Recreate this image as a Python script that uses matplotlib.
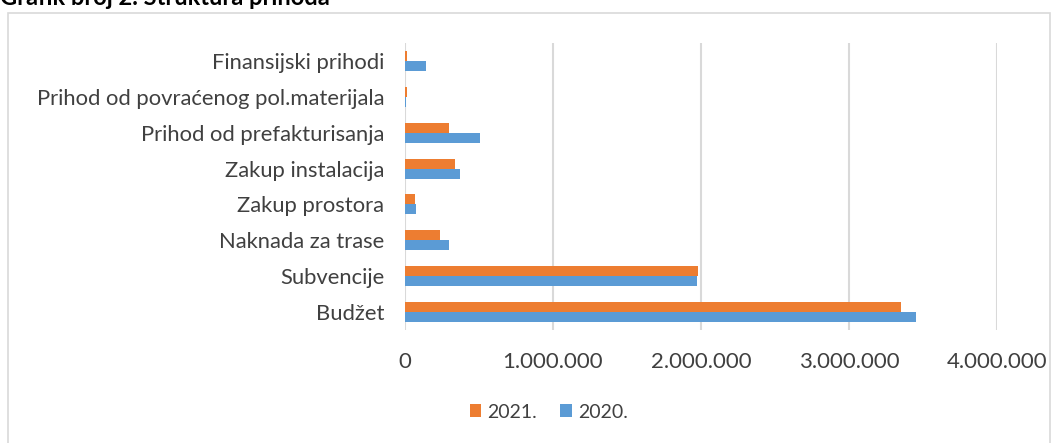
import matplotlib.pyplot as plt
from matplotlib.patches import Rectangle
from matplotlib.ticker import FuncFormatter
import numpy as np

# Struktura prihoda, 2020. i 2021.
categories = ['Budžet', 'Subvencije', 'Naknada za trase', 'Zakup prostora',
              'Zakup instalacija', 'Prihod od prefakturisanja',
              'Prihod od povraćenog pol.materijala', 'Finansijski prihodi']
values_2021 = [3350000, 1980000, 237000, 65000, 340000, 300000, 11000, 16000]
values_2020 = [3450000, 1970000, 294000, 73000, 370000, 510000, 7000, 145000]
xticks = [0, 1000000, 2000000, 3000000, 4000000]

orange = '#ED7D31'
blue = '#5B9BD5'

plt.rcParams['font.family'] = ['Lato', 'DejaVu Sans']

fig = plt.figure(figsize=(10.59, 4.43), dpi=100)
ax = fig.add_axes([405 / 1059, 1 - 330 / 443, (997 - 405) / 1059, (330 - 43) / 443])

y = np.arange(len(categories))
h = 0.28
ax.barh(y + h / 2, values_2021, height=h, color=orange, label='2021.', zorder=3)
ax.barh(y - h / 2, values_2020, height=h, color=blue, label='2020.', zorder=3)

ax.set_xlim(0, 4000000)
ax.set_ylim(-0.5, len(categories) - 0.5)
ax.set_yticks(y)
ax.set_yticklabels(categories, fontsize=15.8, color='#404040')
ax.set_xticks(xticks)
ax.xaxis.set_major_formatter(FuncFormatter(lambda v, p: f'{int(v):,}'.replace(',', '.')))
ax.tick_params(axis='x', labelsize=16, colors='#404040', length=0, pad=16)
ax.tick_params(axis='y', length=0, pad=15)
ax.grid(axis='x', color='#D9D9D9', linewidth=1.5, zorder=0)
for s in ax.spines.values():
    s.set_visible(False)

# chart border and title
fig.patches.append(Rectangle((8 / 1059, -0.1), (1050 - 8) / 1059, 1.1 - 13 / 443,
                             transform=fig.transFigure, fill=False,
                             edgecolor='#D9D9D9', linewidth=1.2))
fig.text(0.0, 1.005, 'Grafik broj 2. Struktura prihoda', fontsize=17,
         fontweight='bold', va='center', ha='left')

fig.legend(loc='center', bbox_to_anchor=(0.518, 1 - 412 / 443), ncol=2, frameon=False,
           fontsize=14, handlelength=0.6, handleheight=0.6, handletextpad=0.3,
           columnspacing=1.2, labelcolor='#404040')

fig.savefig('out.png', dpi=100)
